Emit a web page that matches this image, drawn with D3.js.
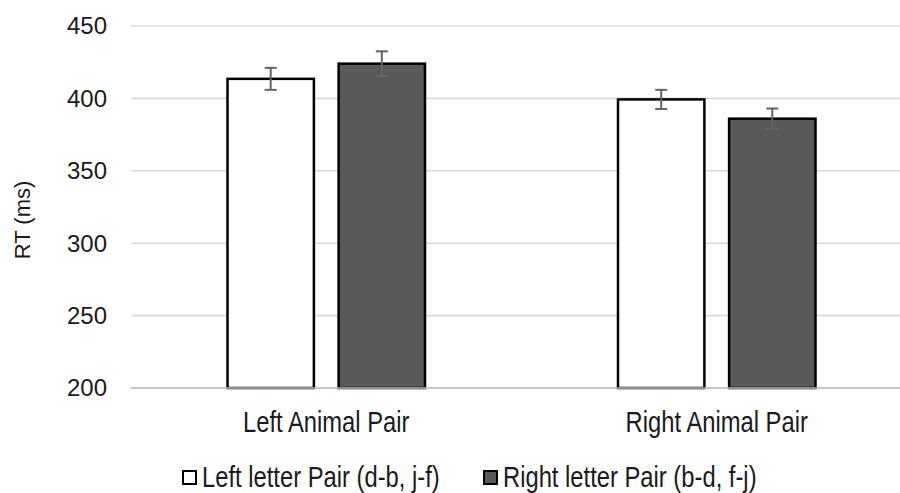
<!DOCTYPE html>
<html><head><meta charset="utf-8">
<script src="https://cdn.jsdelivr.net/npm/d3@7"></script>
<style>
html,body{margin:0;padding:0;background:#fff;}
svg{display:block;}
.reg{font-family:"Liberation Sans",Arial,sans-serif;}
</style></head>
<body>
<svg id="c" width="900" height="493"></svg>
<script>
const categories = ["Left Animal Pair", "Right Animal Pair"];
const seriesNames = ["Left letter Pair (d-b, j-f)", "Right letter Pair (b-d, f-j)"];
const leftLetterValues = [413.5, 399.3];
const leftLetterErrors = [7.6, 6.6];
const rightLetterValues = [424, 386];
const rightLetterErrors = [8.5, 7];
const yTicks = [200, 250, 300, 350, 400, 450];
const yTitle = "RT (ms)";

const fills = ["#ffffff", "#595959"];
const seriesVals = [leftLetterValues, rightLetterValues];
const seriesErrs = [leftLetterErrors, rightLetterErrors];

const svg = d3.select("#c");
const y = d3.scaleLinear().domain([200, 450]).range([388, 26]);
const x0 = d3.scaleBand().domain(categories).range([131, 912]).padding(0);
const x1 = d3.scaleBand().domain(seriesNames).range([-100, 100]).paddingInner(0.2);

// gridlines
svg.append("g").selectAll("line").data(yTicks).join("line")
  .attr("x1", 131).attr("x2", 912)
  .attr("y1", d => y(d)).attr("y2", d => y(d))
  .attr("stroke", "#d9d9d9").attr("stroke-width", 1.6);

// y axis labels
svg.append("g").attr("class", "reg").selectAll("text").data(yTicks).join("text")
  .attr("x", 107).attr("y", d => y(d)).attr("dy", "0.35em")
  .attr("text-anchor", "end").attr("font-size", 24).attr("fill", "#1a1a1a")
  .text(d => d);

// y title
svg.append("text").attr("class", "reg")
  .attr("transform", "translate(30,220) rotate(-90)")
  .attr("text-anchor", "middle").attr("font-size", 22).attr("fill", "#1a1a1a")
  .text(yTitle);

// bars
const data = [];
categories.forEach((c, i) => seriesNames.forEach((s, j) => {
  data.push({c, s, j, v: seriesVals[j][i], e: seriesErrs[j][i]});
}));
const cx = d => x0(d.c) + x0.bandwidth() / 2;
const sw = 2.5;
svg.append("g").selectAll("rect").data(data).join("rect")
  .attr("x", d => cx(d) + x1(d.s) + sw / 2)
  .attr("width", x1.bandwidth() - sw)
  .attr("y", d => y(d.v))
  .attr("height", d => y(200) - y(d.v))
  .attr("fill", d => fills[d.j]).attr("stroke", "#000").attr("stroke-width", sw);

// baseline over bars
svg.append("line").attr("x1", 131).attr("x2", 912).attr("y1", y(200)).attr("y2", y(200))
  .attr("stroke", "#bdbdbd").attr("stroke-width", 1.6);

// error bars
const eg = svg.append("g").attr("stroke", "#636363").attr("stroke-width", 2);
data.forEach(d => {
  const xc = cx(d) + x1(d.s) + x1.bandwidth() / 2;
  eg.append("line").attr("x1", xc).attr("x2", xc).attr("y1", y(d.v + d.e)).attr("y2", y(d.v - d.e));
  eg.append("line").attr("x1", xc - 6).attr("x2", xc + 6).attr("y1", y(d.v + d.e)).attr("y2", y(d.v + d.e));
  eg.append("line").attr("x1", xc - 6).attr("x2", xc + 6).attr("y1", y(d.v - d.e)).attr("y2", y(d.v - d.e));
});

// category labels (condensed look)
svg.append("g").attr("class", "reg").selectAll("text").data(categories).join("text")
  .attr("transform", d => `translate(${x0(d) + x0.bandwidth() / 2},432) scale(0.82,1)`)
  .attr("text-anchor", "middle").attr("font-size", 29).attr("fill", "#1a1a1a")
  .text(d => d);

// legend
const legX = [182, 483];
const lg = svg.append("g").selectAll("g").data(seriesNames).join("g")
  .attr("transform", (d, i) => `translate(${legX[i]},470)`);
lg.append("rect").attr("x", 1).attr("y", 1).attr("width", 13).attr("height", 13)
  .attr("fill", (d, i) => fills[i]).attr("stroke", "#000").attr("stroke-width", 2);
lg.append("text").attr("class", "reg").attr("transform", "translate(20,17) scale(0.82,1)")
  .attr("font-size", 29).attr("fill", "#1a1a1a").text(d => d);
</script>
</body></html>
